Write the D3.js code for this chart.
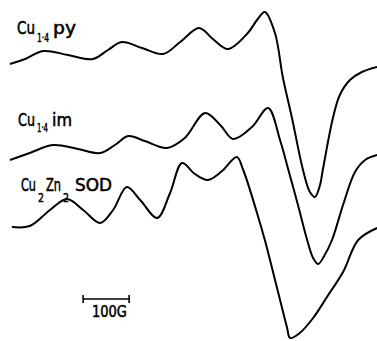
<!DOCTYPE html>
<html>
<head>
<meta charset="utf-8">
<script src="https://cdn.jsdelivr.net/npm/d3@7"></script>
<style>
  body { margin: 0; background: #fff; }
  text { font-family: "DejaVu Sans Condensed", "Liberation Sans Narrow", sans-serif; fill: #000; stroke: #000; stroke-width: 0.5px; }
</style>
</head>
<body>
<div id="chart"></div>
<script>
// field positions (G, relative) and derivative amplitudes (arbitrary units)
const pyField = [0, 33, 72, 126, 180, 213, 243, 287, 333, 370, 411, 441, 474, 517, 537, 554, 576, 593, 613, 637, 652, 663, 674, 680, 702, 717, 739, 765, 798]
const pySignal = [0, 5, 13, 9, 5, 14, 22, 16, 10, 22, 36, 25, 15, 31, 44, 52, 31, -13, -54, -106, -128, -133, -121, -106, -54, -31, -16, -8, -3]

const imField = [0, 43, 93, 148, 196, 228, 257, 293, 341, 380, 424, 457, 485, 526, 561, 587, 604, 626, 646, 659, 670, 683, 700, 724, 750, 772, 798]
const imSignal = [0, 7, 15, 11, 7, 15, 24, 19, 12, 22, 47, 35, 21, 33, 52, 20, -8, -45, -80, -98, -104, -96, -80, -45, -12, 0, 5]

const sodField = [4, 43, 87, 124, 159, 196, 224, 254, 283, 320, 348, 374, 402, 430, 461, 493, 507, 537, 554, 580, 602, 609, 630, 659, 689, 724, 757, 798]
const sodSignal = [0, 1, 17, 28, 17, 4, 17, 40, 27, 9, 34, 64, 53, 47, 56, 70, 57, 14, -13, -60, -100, -111, -106, -91, -70, -45, -13, -1]

// vertical stacking of the three spectra
const offsets = [277, 181, 114]
const scaleBar = [159, 259] // 100 G

const width = 377
const height = 341

const svg = d3.select("#chart").append("svg")
    .attr("width", width)
    .attr("height", height)

const x = d3.scaleLinear().domain([0, 800]).range([10, 378])
const y = d3.scaleLinear().domain([0, 341]).range([341, 0])

const spectra = [
    {field: pyField, signal: pySignal, offset: offsets[0]},
    {field: imField, signal: imSignal, offset: offsets[1]},
    {field: sodField, signal: sodSignal, offset: offsets[2]}
]

const line = d3.line()
    .x(d => x(d[0]))
    .y(d => y(d[1]))
    .curve(d3.curveCatmullRom.alpha(0.5))

svg.selectAll("path.spectrum")
    .data(spectra)
    .join("path")
    .attr("class", "spectrum")
    .attr("d", s => line(s.field.map((f, i) => [f, s.signal[i] + s.offset])))
    .attr("fill", "none")
    .attr("stroke", "#000")
    .attr("stroke-width", 2)
    .attr("stroke-linejoin", "round")

// labels: each piece narrowed (horizontal scale) to the width it has in the original
function squeezed(txt, px, py, w, size) {
    const t = svg.append("text")
        .style("font-size", size + "px")
        .text(txt)
    const len = t.node().getComputedTextLength()
    t.attr("transform", `translate(${px},${py}) scale(${w / len},1)`)
    return t
}
function label(parts) {
    parts.forEach(p => squeezed(p.text, p.x, p.y, p.w, p.size))
}
label([
    {text: "Cu", x: 17, y: 34, w: 18, size: 17},
    {text: "1·4", x: 37, y: 42, w: 12, size: 13},
    {text: "py", x: 53, y: 34, w: 23, size: 17}
])
label([
    {text: "Cu", x: 18, y: 126, w: 17, size: 17},
    {text: "1·4", x: 37, y: 132, w: 11, size: 13},
    {text: "im", x: 52, y: 126, w: 20, size: 17}
])
label([
    {text: "Cu", x: 21, y: 191, w: 15, size: 17},
    {text: "2", x: 38, y: 202, w: 6, size: 13},
    {text: "Zn", x: 46, y: 191, w: 15, size: 17},
    {text: "2", x: 63, y: 202, w: 6, size: 13},
    {text: "SOD", x: 75, y: 191, w: 37, size: 17}
])

// 100 G scale bar
const bar = svg.append("g").attr("stroke", "#000").attr("stroke-width", 1.6)
bar.append("line").attr("x1", x(scaleBar[0])).attr("x2", x(scaleBar[1])).attr("y1", 299).attr("y2", 299)
scaleBar.forEach(v => {
    bar.append("line").attr("x1", x(v)).attr("x2", x(v)).attr("y1", 295).attr("y2", 303)
})
squeezed("100G", 92, 317, 35, 16)
</script>
</body>
</html>
